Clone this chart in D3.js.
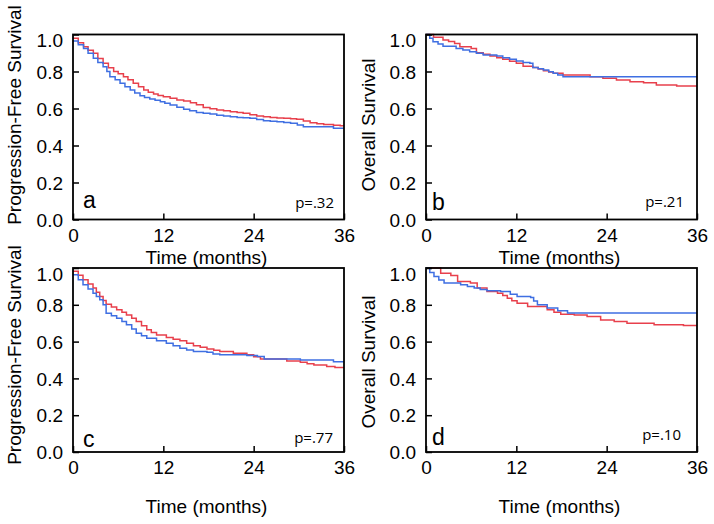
<!DOCTYPE html>
<html>
<head>
<meta charset="utf-8">
<script src="https://cdn.jsdelivr.net/npm/d3@7"></script>
<style>
  html, body { margin: 0; padding: 0; background: #fff; }
  svg { display: block; }
</style>
</head>
<body>
<svg id="chart" width="714" height="524"></svg>
<script>
// ---- data (time in months, survival proportion) ----
const xTicks = [0, 12, 24, 36];
const yTicks = [0.0, 0.2, 0.4, 0.6, 0.8, 1.0];
const panelLetters = ["a", "b", "c", "d"];
const pValues = ["p=.32", "p=.21", "p=.77", "p=.10"];
const yLabels = ["Progression-Free Survival", "Overall Survival", "Progression-Free Survival", "Overall Survival"];
const xLabel = "Time (months)";

const aRed = [[0,0.98],[0.7,0.955],[1.4,0.934],[2.0,0.915],[2.7,0.898],[3.3,0.87],[4.0,0.844],[4.7,0.82],[5.4,0.80],[6.0,0.788],[6.7,0.772],[7.3,0.755],[8.0,0.736],[8.7,0.718],[9.4,0.70],[10.0,0.688],[10.7,0.678],[11.3,0.67],[12.0,0.664],[12.9,0.655],[13.8,0.646],[14.7,0.640],[15.6,0.631],[16.4,0.62],[17.3,0.606],[18.2,0.598],[19.1,0.592],[20.0,0.588],[20.9,0.583],[21.8,0.578],[22.6,0.574],[23.5,0.566],[24.4,0.559],[25.3,0.555],[26.2,0.552],[27.1,0.549],[28.0,0.547],[28.9,0.545],[29.7,0.542],[30.6,0.532],[31.5,0.523],[32.4,0.518],[33.3,0.514],[34.6,0.510],[35.5,0.507],[36,0.507]];
const aBlue = [[0,0.965],[0.7,0.945],[1.4,0.925],[2.0,0.898],[2.7,0.871],[3.3,0.848],[4.0,0.826],[4.5,0.80],[4.9,0.772],[5.6,0.755],[6.25,0.736],[6.9,0.718],[7.6,0.70],[8.2,0.684],[8.9,0.669],[9.5,0.66],[10.2,0.651],[10.9,0.644],[11.6,0.637],[12.2,0.628],[12.9,0.619],[13.8,0.607],[14.7,0.596],[15.5,0.588],[16.4,0.579],[17.3,0.574],[18.2,0.570],[19.1,0.564],[20.0,0.559],[20.9,0.555],[21.8,0.552],[22.6,0.550],[23.5,0.547],[24.4,0.540],[25.3,0.534],[26.2,0.531],[27.1,0.529],[28.0,0.525],[28.9,0.520],[29.8,0.511],[30.6,0.502],[33.3,0.502],[34.6,0.493],[36,0.493]];

const bRed = [[0,1.0],[1.0,0.985],[2.26,0.970],[3.0,0.962],[3.8,0.952],[4.5,0.934],[6.0,0.925],[6.7,0.902],[7.6,0.893],[8.5,0.884],[9.4,0.875],[10.2,0.866],[11.1,0.855],[12.0,0.844],[12.9,0.829],[14.2,0.822],[14.9,0.813],[15.6,0.804],[16.3,0.797],[16.9,0.790],[18.2,0.781],[20.0,0.781],[21.8,0.772],[23.5,0.763],[25.3,0.754],[27.1,0.745],[28.9,0.739],[30.6,0.727],[33.3,0.722],[36,0.722]];
const bBlue = [[0,1.0],[0.5,0.98],[0.93,0.961],[1.6,0.948],[2.26,0.937],[4.0,0.925],[4.9,0.916],[5.8,0.907],[6.7,0.898],[7.6,0.889],[9.4,0.884],[10.2,0.875],[11.1,0.866],[12.0,0.857],[12.9,0.848],[13.8,0.844],[14.2,0.822],[14.9,0.815],[15.6,0.808],[16.3,0.799],[16.9,0.790],[17.5,0.781],[18.2,0.772],[36,0.772]];

const cRed = [[0,0.982],[0.7,0.96],[1.33,0.936],[2.0,0.913],[2.66,0.891],[3.1,0.868],[3.55,0.845],[4.0,0.824],[4.4,0.803],[5.1,0.788],[5.8,0.773],[6.5,0.76],[7.1,0.745],[7.8,0.727],[8.4,0.709],[9.1,0.686],[9.8,0.664],[10.4,0.65],[11.1,0.636],[12.4,0.622],[13.3,0.613],[14.2,0.604],[15.1,0.591],[16.0,0.578],[16.9,0.569],[17.8,0.560],[18.7,0.553],[19.5,0.546],[21.3,0.537],[23.1,0.528],[24.0,0.517],[24.9,0.506],[26.6,0.506],[28.4,0.495],[30.2,0.488],[31.1,0.480],[32.0,0.473],[33.7,0.464],[34.8,0.459],[36,0.459]];
const cBlue = [[0,0.963],[0.7,0.936],[1.33,0.909],[2.0,0.886],[2.66,0.863],[3.1,0.845],[3.55,0.827],[4.0,0.80],[4.4,0.754],[5.1,0.74],[5.8,0.727],[6.5,0.709],[7.1,0.691],[7.8,0.668],[8.4,0.646],[9.1,0.632],[9.8,0.618],[11.1,0.604],[12.4,0.591],[13.3,0.578],[14.2,0.564],[15.1,0.555],[16.0,0.546],[17.8,0.542],[18.6,0.533],[19.5,0.528],[23.1,0.524],[24.5,0.519],[25.4,0.506],[28.4,0.506],[30.2,0.500],[33.7,0.500],[34.6,0.491],[36,0.491]];

const dRed = [[0,1.0],[1.95,0.972],[3.3,0.959],[4.2,0.927],[5.9,0.918],[6.8,0.891],[8.1,0.872],[9.5,0.863],[10.2,0.85],[10.8,0.836],[11.4,0.822],[12.1,0.809],[13.5,0.791],[14.8,0.791],[16.1,0.773],[17.0,0.76],[17.9,0.749],[19.7,0.745],[21.4,0.736],[23.2,0.718],[25.0,0.709],[26.7,0.700],[28.5,0.700],[30.3,0.691],[32.9,0.691],[34.2,0.687],[36,0.687]];
const dBlue = [[0,1.0],[0.5,0.975],[1.06,0.954],[1.7,0.935],[2.4,0.918],[4.6,0.909],[5.5,0.90],[6.4,0.891],[7.2,0.883],[8.1,0.876],[9.9,0.872],[11.2,0.858],[12.1,0.845],[13.9,0.840],[14.3,0.82],[14.8,0.80],[16.1,0.782],[17.5,0.767],[18.8,0.755],[36,0.755]];

const redSeries = [aRed, bRed, cRed, dRed];
const blueSeries = [aBlue, bBlue, cBlue, dBlue];

// ---- layout ----
const panels = [
  { x0: 73,  x1: 344, y0: 34.5, y1: 219.5, ylabY: 115, ylabX: 21, pX: 334, pY: 208, letX: 83, letY: 208, xlabY: 264 },
  { x0: 426, x1: 697, y0: 34.5, y1: 219.5, ylabY: 125, ylabX: 375, pX: 684, pY: 207, letX: 432, letY: 210, xlabY: 264 },
  { x0: 73,  x1: 344, y0: 268,  y1: 452,   ylabY: 355, ylabX: 21, pX: 333, pY: 443, letX: 83, letY: 447, xlabY: 513 },
  { x0: 426, x1: 697, y0: 268,  y1: 452,   ylabY: 362, ylabX: 375, pX: 681, pY: 440, letX: 432, letY: 445, xlabY: 513 }
];

const RED = "#e8404c";
const BLUE = "#3f6fe2";
const FONT = "'Liberation Sans', Arial, Helvetica, sans-serif";

const svg = d3.select("#chart");

panels.forEach((p, i) => {
  const x = d3.scaleLinear().domain([0, 36]).range([p.x0, p.x1]);
  const y = d3.scaleLinear().domain([0, 1]).range([p.y1, p.y0]);
  const g = svg.append("g");

  // curves
  const line = d3.line().x(d => x(d[0])).y(d => y(d[1])).curve(d3.curveStepAfter);
  g.append("path").datum(redSeries[i]).attr("d", line)
    .attr("fill", "none").attr("stroke", RED).attr("stroke-width", 1.5);
  g.append("path").datum(blueSeries[i]).attr("d", line)
    .attr("fill", "none").attr("stroke", BLUE).attr("stroke-width", 1.5);

  // y axis (inward ticks)
  const yAxis = g.append("g").attr("transform", `translate(${p.x0},0)`)
    .call(d3.axisLeft(y).tickValues(yTicks).tickFormat(d3.format(".1f")).tickSizeInner(-6).tickSizeOuter(0).tickPadding(10));
  yAxis.select(".domain").remove();
  yAxis.selectAll("line").attr("stroke", "#000").attr("stroke-width", 1.5);
  yAxis.selectAll("text").attr("font-family", FONT).attr("font-size", 19).attr("fill", "#000")
    .attr("dy", d => d === 1 ? "0.65em" : "0.35em");

  // x axis (inward ticks)
  const xAxis = g.append("g").attr("transform", `translate(0,${p.y1})`)
    .call(d3.axisBottom(x).tickValues(xTicks).tickSizeInner(-6).tickSizeOuter(0).tickPadding(9));
  xAxis.select(".domain").remove();
  xAxis.selectAll("line").attr("stroke", "#000").attr("stroke-width", 1.5);
  xAxis.selectAll("text").attr("font-family", FONT).attr("font-size", 19).attr("fill", "#000");

  // frame
  g.append("rect").attr("x", p.x0).attr("y", p.y0)
    .attr("width", p.x1 - p.x0).attr("height", p.y1 - p.y0)
    .attr("fill", "none").attr("stroke", "#000").attr("stroke-width", 1.8);

  // axis labels
  g.append("text").attr("x", (p.x0 + p.x1) / 2 - 2).attr("y", p.xlabY)
    .attr("text-anchor", "middle").attr("font-family", FONT).attr("font-size", 19)
    .text(xLabel);
  g.append("text").attr("transform", `translate(${p.ylabX},${p.ylabY}) rotate(-90)`)
    .attr("text-anchor", "middle").attr("font-family", FONT).attr("font-size", 19)
    .text(yLabels[i]);

  // panel letter
  g.append("text").attr("x", p.letX).attr("y", p.letY)
    .attr("font-family", FONT).attr("font-size", 23).text(panelLetters[i]);

  // p-value
  g.append("text").attr("x", p.pX).attr("y", p.pY).attr("text-anchor", "end")
    .attr("font-family", "'Open Sans', 'Noto Sans', sans-serif").attr("font-size", 15)
    .text(pValues[i]);
});
</script>
</body>
</html>
